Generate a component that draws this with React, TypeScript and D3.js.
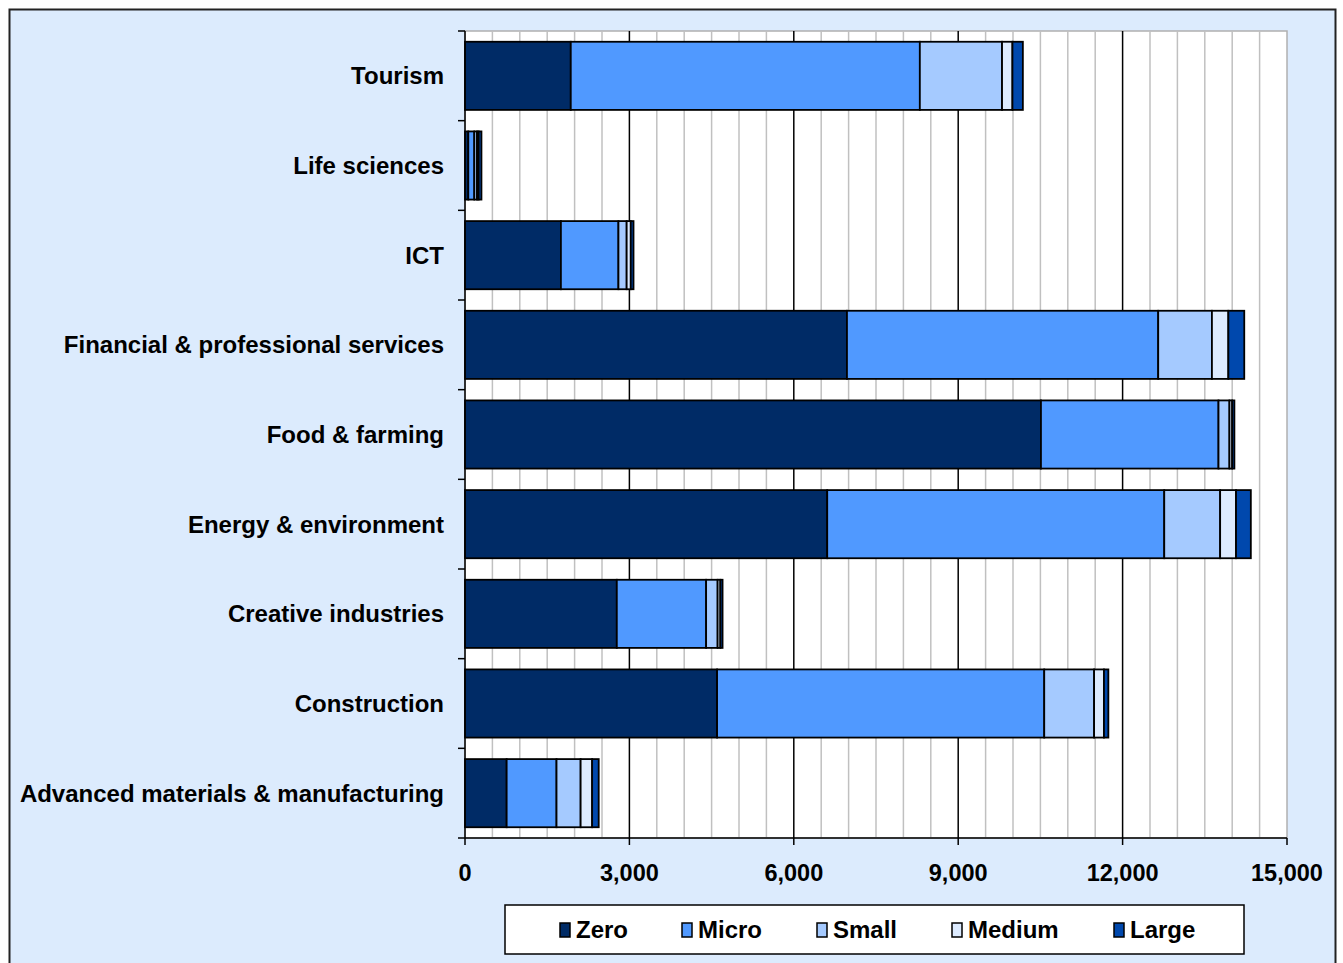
import * as d3 from 'd3';

const WIDTH = 1343;
const HEIGHT = 963;
const PLOT = { left: 465, right: 1287, top: 31, bottom: 838 };

const categories = [
  'Tourism',
  'Life sciences',
  'ICT',
  'Financial & professional services',
  'Food & farming',
  'Energy & environment',
  'Creative industries',
  'Construction',
  'Advanced materials & manufacturing',
];

const sizeBands = ['Zero', 'Micro', 'Small', 'Medium', 'Large'];

// one array per size band, in category order
const zero = [1930, 60, 1750, 6970, 10510, 6610, 2770, 4600, 760];
const micro = [6370, 110, 1050, 5680, 3240, 6150, 1630, 5970, 910];
const small = [1500, 50, 150, 980, 200, 1020, 210, 910, 440];
const medium = [190, 30, 75, 300, 50, 290, 50, 180, 210];
const large = [190, 50, 50, 290, 40, 270, 40, 80, 120];

const bandColors = ['#002b66', '#5099ff', '#a5caff', '#ddebff', '#0048ad'];

const xTicks = [0, 3000, 6000, 9000, 12000, 15000];
const FONT = '"Liberation Sans", Arial, sans-serif';

export default function App() {
  const x = d3.scaleLinear().domain([0, 15000]).range([PLOT.left, PLOT.right]);
  const y = d3
    .scaleBand<string>()
    .domain(categories)
    .range([PLOT.top, PLOT.bottom])
    .paddingInner(0.24)
    .paddingOuter(0.12);

  const rows = categories.map((c, i) => ({
    category: c,
    Zero: zero[i],
    Micro: micro[i],
    Small: small[i],
    Medium: medium[i],
    Large: large[i],
  }));
  const stacked = d3.stack<any>().keys(sizeBands)(rows);

  const minorTicks = d3.range(500, 15001, 500).filter((v) => v % 3000 !== 0);
  const bandEdges = d3.range(0, categories.length + 1).map((i) => PLOT.top + i * y.step());

  const legendX = [560, 682, 817, 952, 1114];

  return (
    <svg
      width={WIDTH}
      height={HEIGHT}
      style={{ position: 'absolute', left: 0, top: 0 }}
      fontFamily={FONT}
    >
      <rect x={9.5} y={9.5} width={1326} height={970} fill='#dcebfd' stroke='#222' strokeWidth={2} />
      <rect
        x={PLOT.left}
        y={PLOT.top}
        width={PLOT.right - PLOT.left}
        height={PLOT.bottom - PLOT.top}
        fill='#fff'
        stroke='#b0b0b0'
        strokeWidth={1.5}
      />
      {minorTicks.map((v) => (
        <line key={v} x1={x(v)} x2={x(v)} y1={PLOT.top} y2={PLOT.bottom} stroke='#c0c0c0' strokeWidth={1.5} />
      ))}
      {xTicks.slice(1, -1).map((v) => (
        <line key={v} x1={x(v)} x2={x(v)} y1={PLOT.top} y2={PLOT.bottom} stroke='#000' strokeWidth={1.5} />
      ))}

      {stacked.map((series, si) => (
        <g key={series.key} fill={bandColors[si]} stroke='#000' strokeWidth={1.8}>
          {series.map((d) => (
            <rect
              key={d.data.category}
              x={x(d[0])}
              y={y(d.data.category)}
              width={x(d[1]) - x(d[0])}
              height={y.bandwidth()}
            />
          ))}
        </g>
      ))}

      {/* axes */}
      <line x1={PLOT.left} x2={PLOT.left} y1={PLOT.top} y2={PLOT.bottom} stroke='#000' strokeWidth={1.5} />
      <line x1={PLOT.left} x2={PLOT.right} y1={PLOT.bottom} y2={PLOT.bottom} stroke='#000' strokeWidth={1.5} />
      {bandEdges.map((e, i) => (
        <line key={i} x1={PLOT.left - 7} x2={PLOT.left} y1={e} y2={e} stroke='#000' strokeWidth={1.5} />
      ))}
      {xTicks.map((v) => (
        <g key={v}>
          <line x1={x(v)} x2={x(v)} y1={PLOT.bottom} y2={PLOT.bottom + 7} stroke='#000' strokeWidth={1.5} />
          <text x={x(v)} y={881} textAnchor='middle' fontSize={23.5} fontWeight='bold'>
            {d3.format(',')(v)}
          </text>
        </g>
      ))}
      {categories.map((c) => (
        <text
          key={c}
          x={444}
          y={(y(c) ?? 0) + y.bandwidth() / 2}
          dy='0.35em'
          textAnchor='end'
          fontSize={24}
          fontWeight='bold'
        >
          {c}
        </text>
      ))}

      {/* legend */}
      <rect x={505} y={905} width={739} height={49} fill='#fff' stroke='#000' strokeWidth={1.5} />
      {sizeBands.map((s, i) => (
        <g key={s}>
          <rect x={legendX[i]} y={923} width={10} height={14} fill={bandColors[i]} stroke='#000' strokeWidth={1.5} />
          <text x={legendX[i] + 16} y={938} fontSize={24} fontWeight='bold'>
            {s}
          </text>
        </g>
      ))}
    </svg>
  );
}
